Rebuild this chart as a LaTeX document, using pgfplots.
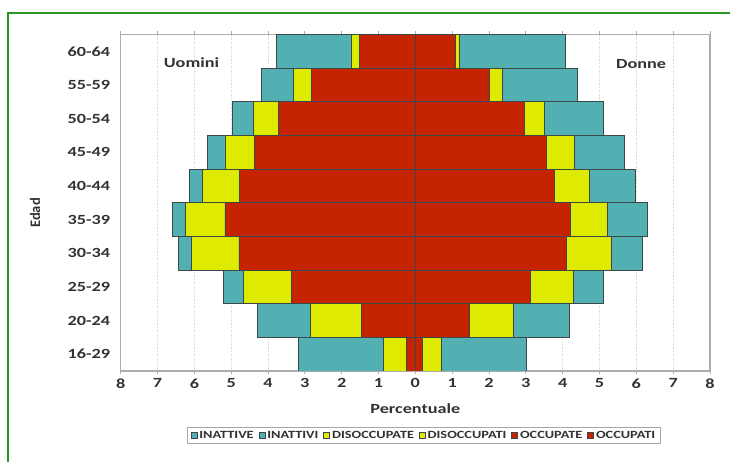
\documentclass[border=0pt]{standalone}
\usepackage{pgfplots}
\pgfplotsset{compat=1.18}
\usepackage{fontspec}
\setmainfont[FakeStretch=1.3]{Carlito}
\newfontfamily\plainfont{Carlito}
\definecolor{cIna}{RGB}{82,176,178}
\definecolor{cDis}{RGB}{222,234,0}
\definecolor{cOcc}{RGB}{198,36,0}
\definecolor{cEdge}{RGB}{60,72,72}
\definecolor{cTxt}{RGB}{50,50,50}
\definecolor{cFrame}{RGB}{40,150,40}
\pgfplotsset{
  pyr/.style={
    at={(0pt,0pt)}, anchor=south west,
    scale only axis, width=589.3pt, height=336.5pt,
    xmin=-8, xmax=8, ymin=-0.5, ymax=9.5,
    xbar stacked, bar width=1,
  },
  barst/.style={fill=#1, draw=cEdge, line width=0.7pt, forget plot},
}
\begin{document}
\begin{tikzpicture}
\useasboundingbox (-120.7pt,-91pt) rectangle (609.3pt,371pt);
\draw[cFrame, line width=1.6pt] (-112.7pt,-120pt) -- (-112.7pt,358pt) -- (660pt,358pt);
% women (positive) + frame, ticks, legend
\begin{axis}[pyr,
  xtick={-8,...,8},
  xticklabels={\textbf{8},\textbf{7},\textbf{6},\textbf{5},\textbf{4},\textbf{3},\textbf{2},\textbf{1},\textbf{0},\textbf{1},\textbf{2},\textbf{3},\textbf{4},\textbf{5},\textbf{6},\textbf{7},\textbf{8}},
  ytick={0,...,9},
  yticklabels={\textbf{16-29},\textbf{20-24},\textbf{25-29},\textbf{30-34},\textbf{35-39},\textbf{40-44},\textbf{45-49},\textbf{50-54},\textbf{55-59},\textbf{60-64}},
  xmajorgrids, grid style={dotted, gray!40, line width=0.9pt},
  axis line style={gray!65, line width=1.2pt},
  xtick style={gray!65, line width=0.8pt}, tick align=outside, major tick length=3pt,
  ytick style={draw=none},
  ticklabel style={font=\fontsize{14}{14}\selectfont\bfseries, text=cTxt},
  yticklabel style={xshift=-4pt},
  xticklabel style={yshift=-1pt},
  xlabel={\textbf{Percentuale}},
  xlabel style={at={(0.5,-0.113)}, anchor=center, font=\fontsize{14}{14}\selectfont, text=cTxt},
  ylabel={\textbf{Edad}},
  ylabel style={at={(-0.1454,0.4695)}, anchor=center, font=\plainfont\fontsize{14.5}{14.5}\selectfont, text=cTxt},
  legend columns=6,
  legend style={at={(0.5147,-0.1917)}, anchor=center, draw=gray!70, line width=0.8pt,
    font=\fontsize{11}{11}\selectfont\bfseries, text=cTxt, inner xsep=3pt, inner ysep=2pt,
    /tikz/every even column/.append style={column sep=3pt}},
  legend cell align=left,
  legend image code/.code={\draw[#1, line width=0.6pt] (0pt,-3pt) rectangle (6pt,3pt);},
]
\addplot[barst=cOcc] coordinates {(0.19,0) (1.46,1) (3.13,2) (4.11,3) (4.22,4) (3.77,5) (3.56,6) (2.96,7) (2.00,8) (1.08,9)};
\addplot[barst=cDis] coordinates {(0.52,0) (1.19,1) (1.15,2) (1.20,3) (1.00,4) (0.95,5) (0.77,6) (0.55,7) (0.35,8) (0.12,9)};
\addplot[barst=cIna] coordinates {(2.29,0) (1.54,1) (0.82,2) (0.86,3) (1.07,4) (1.26,5) (1.34,6) (1.60,7) (2.05,8) (2.88,9)};
\addlegendimage{fill=cIna, draw=cEdge}\addlegendentry{INATTIVE}
\addlegendimage{fill=cIna, draw=cEdge}\addlegendentry{INATTIVI}
\addlegendimage{fill=cDis, draw=cEdge}\addlegendentry{DISOCCUPATE}
\addlegendimage{fill=cDis, draw=cEdge}\addlegendentry{DISOCCUPATI}
\addlegendimage{fill=cOcc, draw=cEdge}\addlegendentry{OCCUPATE}
\addlegendimage{fill=cOcc, draw=cEdge}\addlegendentry{OCCUPATI}
\node[font=\fontsize{14}{14}\selectfont\bfseries, text=cTxt] at (axis cs:6.13,8.62) {Donne};
\end{axis}
% men (negative)
\begin{axis}[pyr, hide axis]
\addplot[barst=cOcc] coordinates {(-0.24,0) (-1.46,1) (-3.36,2) (-4.79,3) (-5.17,4) (-4.77,5) (-4.37,6) (-3.72,7) (-2.82,8) (-1.51,9)};
\addplot[barst=cDis] coordinates {(-0.63,0) (-1.39,1) (-1.30,2) (-1.29,3) (-1.07,4) (-1.00,5) (-0.80,6) (-0.68,7) (-0.50,8) (-0.24,9)};
\addplot[barst=cIna] coordinates {(-2.31,0) (-1.43,1) (-0.54,2) (-0.36,3) (-0.36,4) (-0.36,5) (-0.47,6) (-0.56,7) (-0.86,8) (-2.02,9)};
\draw[cEdge, line width=1pt] (axis cs:0,-0.5) -- (axis cs:0,9.5);
\node[font=\fontsize{14}{14}\selectfont\bfseries, text=cTxt] at (axis cs:-6.08,8.65) {Uomini};
\end{axis}
\end{tikzpicture}
\end{document}
